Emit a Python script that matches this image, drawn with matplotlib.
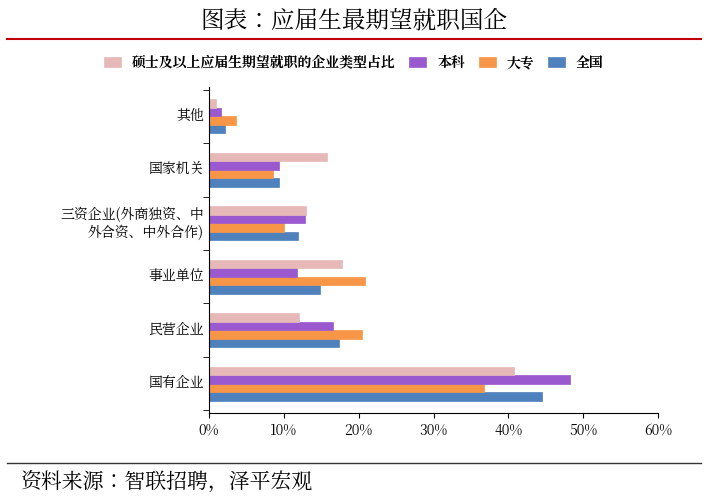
import numpy as np
import matplotlib.pyplot as plt
from matplotlib import font_manager
from matplotlib.ticker import PercentFormatter

# find a CJK font file and register it
cjk = 'DejaVu Sans'
for f in font_manager.findSystemFonts():
    if 'CJK' in f or 'cjk' in f.lower():
        try:
            font_manager.fontManager.addfont(f)
            name = font_manager.FontProperties(fname=f).get_name()
            if 'SC' in name or cjk == 'DejaVu Sans':
                cjk = name
        except Exception:
            pass
plt.rcParams['font.family'] = [cjk, 'DejaVu Sans']
plt.rcParams['axes.unicode_minus'] = False

cats = ['国有企业', '民营企业', '事业单位', '三资企业(外商独资、中\n外合资、中外合作)', '国家机关', '其他']
quanguo = [44.5, 17.4, 14.8, 11.9, 9.4, 2.2]
dazhuan = [36.8, 20.5, 20.8, 10.0, 8.5, 3.6]
benke = [48.2, 16.6, 11.7, 12.8, 9.3, 1.6]
shuoshi = [40.7, 12.0, 17.8, 12.9, 15.8, 1.0]

fig = plt.figure(figsize=(7.08, 5.0), dpi=100)
ax = fig.add_axes([209/708, 87/500, 449/708, 326/500])

y = np.arange(len(cats))
h = 0.16
series = [(quanguo, '#4f81bd', '全国'), (dazhuan, '#f79646', '大专'),
          (benke, '#9b59d0', '本科'), (shuoshi, '#e6b9b8', '硕士及以上应届生期望就职的企业类型占比')]
for i, (vals, c, lab) in enumerate(series):
    ax.barh(y + (i - 1.5) * h - 0.05, vals, height=h, color=c, edgecolor=c, lw=0.5, label=lab)

ax.set_xlim(0, 60)
ax.set_ylim(-0.6, 5.5)
ax.set_yticks(y)
ax.set_yticklabels(cats, fontsize=10)
ax.set_yticks(np.arange(-0.55, 5.5, 1), minor=True)
ax.tick_params(axis='y', which='major', length=0)
ax.tick_params(axis='y', which='minor', length=4, direction='out')
ax.xaxis.set_major_formatter(PercentFormatter(decimals=0))
ax.tick_params(axis='x', labelsize=10)
for s in ['top', 'right']:
    ax.spines[s].set_visible(False)

handles, labels = ax.get_legend_handles_labels()
fig.legend(handles[::-1], labels[::-1], loc='center', bbox_to_anchor=(0.5, 1 - 63/500), ncol=4,
           frameon=False, handlelength=1.2, columnspacing=1.0,
           prop={'family': cjk, 'weight': 'bold', 'size': 10})

fig.text(0.5, 1 - 20/500, '图表：应届生最期望就职国企', ha='center', va='center', fontsize=17)
fig.add_artist(plt.Line2D([0.01, 0.99], [1 - 39/500] * 2, color='#c00000', lw=1.5))
fig.add_artist(plt.Line2D([0.01, 0.99], [1 - 463/500] * 2, color='#333333', lw=1))
fig.text(0.03, 1 - 482/500, '资料来源：智联招聘，泽平宏观', ha='left', va='center', fontsize=15, style='italic')

fig.savefig('out.png')
